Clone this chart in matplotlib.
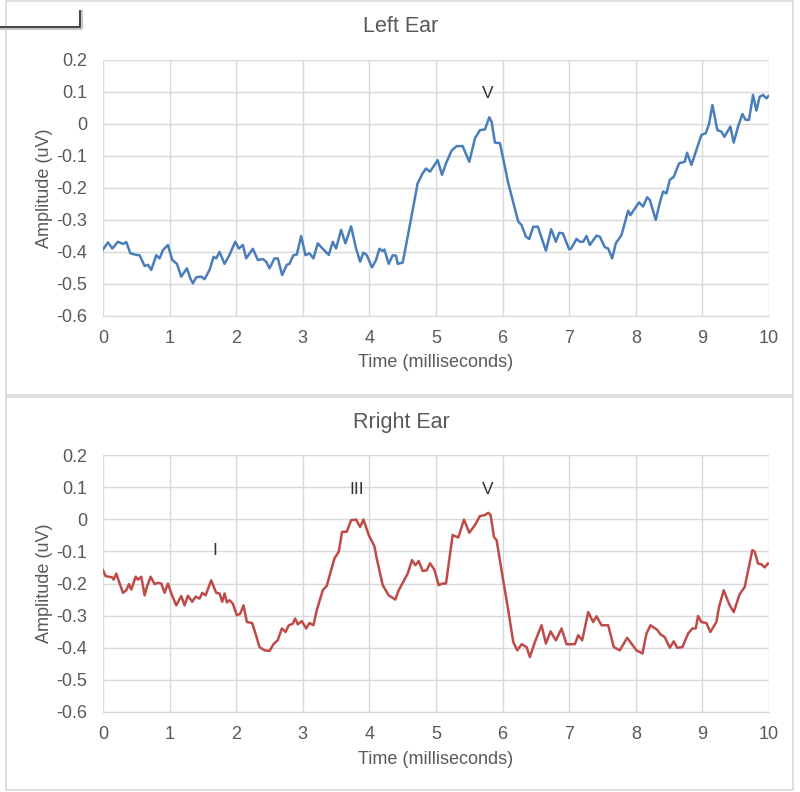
import matplotlib.pyplot as plt
from matplotlib.lines import Line2D
from matplotlib.patches import Rectangle

# Left ear trace (ms, uV)
left_time = [0.0, 0.075, 0.14, 0.225, 0.3, 0.35, 0.41, 0.5, 0.55, 0.625, 0.675, 0.725, 0.8, 0.85, 0.9, 0.975,
             1.04, 1.11, 1.175, 1.26, 1.31, 1.35, 1.4, 1.475, 1.525, 1.6, 1.66, 1.7, 1.75, 1.825, 1.9, 1.985,
             2.04, 2.1, 2.15, 2.25, 2.325, 2.4, 2.45, 2.5, 2.575, 2.625, 2.69, 2.76, 2.8, 2.86, 2.91, 2.975,
             3.04, 3.1, 3.16, 3.225, 3.3, 3.39, 3.45, 3.5, 3.575, 3.64, 3.725, 3.8, 3.86, 3.91, 3.96,
             4.04, 4.1, 4.15, 4.2, 4.225, 4.29, 4.35, 4.4, 4.425, 4.5, 4.575, 4.65, 4.725, 4.8, 4.85, 4.91,
             5.025, 5.09, 5.15, 5.235, 5.31, 5.4, 5.5, 5.585, 5.66, 5.735, 5.8, 5.835, 5.885, 5.96,
             6.085, 6.235, 6.285, 6.35, 6.4, 6.46, 6.53, 6.65, 6.73, 6.8, 6.85, 6.905,
             7.0, 7.03, 7.11, 7.16, 7.21, 7.26, 7.31, 7.41, 7.46, 7.535, 7.585, 7.645, 7.7, 7.785, 7.885, 7.92, 7.985,
             8.05, 8.11, 8.17, 8.21, 8.3, 8.36, 8.41, 8.46, 8.51, 8.57, 8.65, 8.735, 8.77, 8.835, 8.885, 8.985,
             9.05, 9.1, 9.15, 9.225, 9.285, 9.33, 9.42, 9.47, 9.535, 9.6, 9.65, 9.7, 9.76, 9.81, 9.86, 9.91, 9.96, 9.99]
left_amp = [-0.392, -0.37, -0.389, -0.368, -0.375, -0.369, -0.404, -0.409, -0.41, -0.444, -0.44, -0.456, -0.41, -0.42, -0.394, -0.378,
            -0.425, -0.437, -0.477, -0.451, -0.482, -0.498, -0.479, -0.477, -0.485, -0.456, -0.415, -0.42, -0.40, -0.437, -0.409, -0.368,
            -0.389, -0.378, -0.42, -0.39, -0.425, -0.422, -0.43, -0.451, -0.42, -0.42, -0.472, -0.44, -0.437, -0.41, -0.408, -0.35,
            -0.41, -0.404, -0.42, -0.373, -0.39, -0.409, -0.368, -0.389, -0.331, -0.373, -0.32, -0.389, -0.43, -0.402, -0.41,
            -0.448, -0.425, -0.39, -0.397, -0.392, -0.437, -0.41, -0.412, -0.437, -0.433, -0.352, -0.269, -0.185, -0.154, -0.139, -0.149,
            -0.113, -0.159, -0.123, -0.083, -0.069, -0.069, -0.118, -0.045, -0.019, -0.017, 0.021, 0.007, -0.058, -0.06,
            -0.185, -0.305, -0.316, -0.352, -0.359, -0.321, -0.321, -0.396, -0.329, -0.368, -0.34, -0.342,
            -0.392, -0.389, -0.359, -0.368, -0.368, -0.35, -0.378, -0.349, -0.352, -0.385, -0.389, -0.42, -0.373, -0.347, -0.271, -0.285, -0.264,
            -0.245, -0.258, -0.229, -0.237, -0.3, -0.246, -0.211, -0.217, -0.175, -0.165, -0.123, -0.118, -0.09, -0.128, -0.097, -0.034,
            -0.029, 0.0, 0.059, -0.019, -0.024, -0.04, -0.008, -0.058, -0.008, 0.031, 0.013, 0.013, 0.091, 0.042, 0.085, 0.091, 0.08, 0.087]

# Right ear trace (ms, uV)
right_time = [0.0, 0.04, 0.09, 0.14, 0.16, 0.2, 0.25, 0.3, 0.35, 0.39, 0.425, 0.49, 0.525, 0.575, 0.625, 0.66, 0.715, 0.775,
              0.825, 0.875, 0.925, 0.975, 1.025, 1.1, 1.175, 1.225, 1.275, 1.34, 1.39, 1.45, 1.49, 1.54, 1.625, 1.66, 1.7,
              1.75, 1.79, 1.825, 1.86, 1.9, 1.95, 2.01, 2.06, 2.11, 2.16, 2.24, 2.29, 2.35, 2.425, 2.5, 2.56, 2.625, 2.685,
              2.74, 2.79, 2.85, 2.885, 2.925, 2.985, 3.05, 3.1, 3.16, 3.21, 3.3, 3.36, 3.425, 3.475, 3.54, 3.59, 3.66,
              3.725, 3.8, 3.86, 3.91, 3.99, 4.075, 4.11, 4.2, 4.29, 4.39, 4.44, 4.5, 4.575, 4.64, 4.69, 4.74, 4.8, 4.86,
              4.91, 4.975, 5.04, 5.1, 5.15, 5.25, 5.335, 5.42, 5.5, 5.585, 5.66, 5.735, 5.785, 5.82, 5.87, 5.91,
              6.0, 6.085, 6.16, 6.22, 6.285, 6.36, 6.41, 6.485, 6.585, 6.65, 6.72, 6.8, 6.885, 6.96,
              7.085, 7.135, 7.195, 7.285, 7.36, 7.41, 7.485, 7.585, 7.67, 7.76, 7.87, 7.935,
              8.01, 8.1, 8.16, 8.22, 8.32, 8.37, 8.435, 8.51, 8.57, 8.62, 8.7, 8.785, 8.85, 8.9, 8.935, 8.985,
              9.06, 9.12, 9.21, 9.25, 9.32, 9.4, 9.47, 9.56, 9.635, 9.75, 9.785, 9.835, 9.885, 9.935, 9.985]
right_amp = [-0.159, -0.177, -0.179, -0.181, -0.188, -0.169, -0.2, -0.229, -0.221, -0.202, -0.219, -0.179, -0.188, -0.179, -0.237, -0.21, -0.179, -0.202,
             -0.198, -0.2, -0.229, -0.2, -0.231, -0.268, -0.239, -0.268, -0.238, -0.257, -0.241, -0.247, -0.229, -0.237, -0.19, -0.209, -0.229,
             -0.231, -0.257, -0.231, -0.259, -0.252, -0.263, -0.299, -0.294, -0.268, -0.32, -0.323, -0.356, -0.398, -0.408, -0.41, -0.389, -0.376, -0.34,
             -0.351, -0.33, -0.325, -0.309, -0.327, -0.317, -0.34, -0.323, -0.33, -0.283, -0.221, -0.207, -0.159, -0.122, -0.101, -0.039, -0.039,
             -0.003, -0.001, -0.024, -0.001, -0.049, -0.084, -0.122, -0.205, -0.237, -0.25, -0.221, -0.198, -0.169, -0.127, -0.143, -0.13, -0.161, -0.159,
             -0.137, -0.157, -0.205, -0.2, -0.2, -0.049, -0.057, -0.001, -0.042, -0.018, 0.01, 0.013, 0.02, 0.013, -0.055, -0.065,
             -0.179, -0.283, -0.382, -0.408, -0.389, -0.398, -0.429, -0.382, -0.33, -0.387, -0.349, -0.377, -0.34, -0.389,
             -0.389, -0.361, -0.377, -0.289, -0.32, -0.302, -0.33, -0.33, -0.398, -0.408, -0.369, -0.387,
             -0.408, -0.418, -0.356, -0.33, -0.344, -0.358, -0.367, -0.4, -0.38, -0.4, -0.398, -0.356, -0.34, -0.34, -0.301, -0.32,
             -0.323, -0.351, -0.32, -0.273, -0.221, -0.263, -0.289, -0.233, -0.211, -0.096, -0.101, -0.138, -0.14, -0.15, -0.138]

# Wave labels: (text, time, amplitude)
left_peaks = [("V", 5.78, 0.095)]
right_peaks = [("I", 1.68, -0.097), ("III", 3.81, 0.093), ("V", 5.78, 0.093)]

x_ticks = list(range(0, 11))
y_ticks = [0.2, 0.1, 0, -0.1, -0.2, -0.3, -0.4, -0.5, -0.6]
y_tick_labels = ["0.2", "0.1", "0", "-0.1", "-0.2", "-0.3", "-0.4", "-0.5", "-0.6"]

plt.rcParams['font.family'] = ['Liberation Sans', 'DejaVu Sans']
text_grey = '#595959'
grid_grey = '#d9d9d9'

fig = plt.figure(figsize=(8, 7.92), dpi=100)
W, H = 800, 792


def px(x, y):
    # pixel position (from top-left) -> figure fraction
    return x / W, 1 - y / H


def setup_axes(ax, title, title_y, xlabel_y):
    ax.set_xlim(0, 10)
    ax.set_ylim(-0.6, 0.2)
    ax.set_xticks(x_ticks)
    ax.set_yticks(y_ticks)
    ax.set_yticklabels(y_tick_labels)
    ax.grid(True, color=grid_grey, linewidth=1)
    ax.set_axisbelow(True)
    for side in ['top', 'right', 'left']:
        ax.spines[side].set_visible(False)
    ax.spines['bottom'].set_color(grid_grey)
    ax.tick_params(length=0, labelsize=13, colors=text_grey, pad=10)
    ax.tick_params(axis='y', pad=11.5)
    ax.set_ylabel('Amplitude (uV)', fontsize=13, color=text_grey, labelpad=2)
    fig.text(*px(436, xlabel_y), 'Time (milliseconds)', ha='center', va='center',
             fontsize=13, color=text_grey)
    fig.text(*px(401, title_y), title, ha='center', va='center', fontsize=15.5, color=text_grey)


ax1 = fig.add_axes([103 / W, 1 - 316 / H, 666 / W, 256 / H])
ax1.plot(left_time, left_amp, color='#4a7ebb', linewidth=1.8, solid_joinstyle='round')
setup_axes(ax1, 'Left Ear', 27, 363)
for label, t, a in left_peaks:
    ax1.text(t, a, label, ha='center', va='center', fontsize=12.5, color='#333333')

ax2 = fig.add_axes([103 / W, 1 - 712 / H, 666 / W, 257 / H])
ax2.plot(right_time, right_amp, color='#be4b48', linewidth=1.8, solid_joinstyle='round')
setup_axes(ax2, 'Rright Ear', 422, 759)
for label, t, a in right_peaks:
    ax2.text(t, a, label, ha='center', va='center', fontsize=12.5, color='#333333')

# chart frames
for y0, y1 in [(1, 395), (397, 790)]:
    fig.patches.append(Rectangle(px(6, y1), 787 / W, (y1 - y0) / H, transform=fig.transFigure,
                                 fill=False, edgecolor=grid_grey, linewidth=1.2))

# stray corner mark at top-left
fig.lines.append(Line2D([0, 81 / W, 81 / W], [1 - 28 / H, 1 - 28 / H, 1 - 12 / H],
                        transform=fig.transFigure, color='#c8c8c8', linewidth=3))
fig.lines.append(Line2D([0, 80 / W, 80 / W], [1 - 27 / H, 1 - 27 / H, 1 - 11 / H],
                        transform=fig.transFigure, color='#3a3a3a', linewidth=1.3))

fig.savefig('out.png', dpi=100)
